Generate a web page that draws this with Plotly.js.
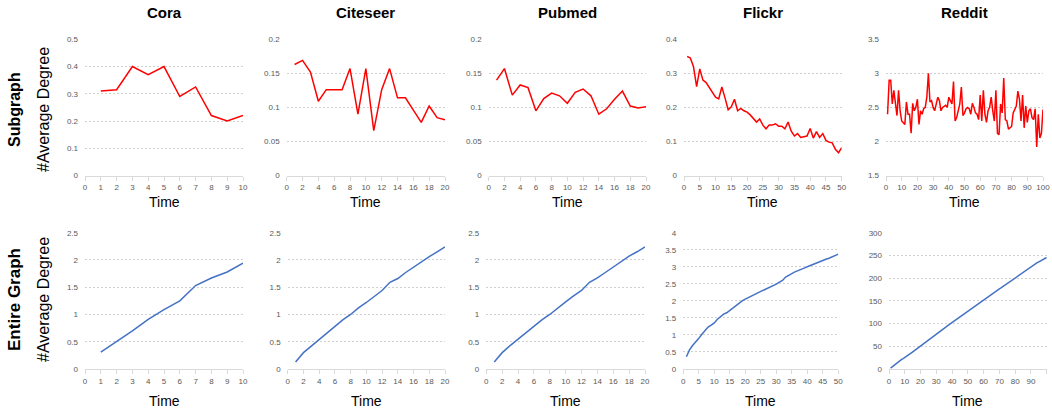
<!DOCTYPE html>
<html>
<head>
<meta charset="utf-8">
<script src="https://cdn.plot.ly/plotly-3.0.1.min.js"></script>
<style>html,body{margin:0;padding:0;background:#fff}#chart{width:1052px;height:409px}</style>
</head>
<body>
<div id="chart"></div>
<script>
// ---- data ----
var datasets = ["Cora", "Citeseer", "Pubmed", "Flickr", "Reddit"];

var coraSub = [0.31, 0.315, 0.40, 0.37, 0.40, 0.29, 0.325, 0.22, 0.20, 0.22];
var citeseerSub = [0.163, 0.169, 0.152, 0.109, 0.126, 0.126, 0.126, 0.157, 0.090, 0.157,
                   0.066, 0.126, 0.157, 0.114, 0.114, 0.096, 0.078, 0.102, 0.085, 0.082];
var pubmedSub = [0.140, 0.157, 0.118, 0.133, 0.129, 0.095, 0.113, 0.121, 0.117, 0.106,
                 0.122, 0.127, 0.117, 0.090, 0.098, 0.112, 0.124, 0.102, 0.099, 0.101];
var flickrSub = [0.350, 0.345, 0.320, 0.261, 0.313, 0.280, 0.273, 0.258, 0.243, 0.230,
                 0.225, 0.260, 0.228, 0.193, 0.202, 0.224, 0.190, 0.197, 0.190, 0.186,
                 0.178, 0.166, 0.157, 0.166, 0.148, 0.137, 0.148, 0.148, 0.152, 0.145,
                 0.145, 0.137, 0.157, 0.130, 0.116, 0.123, 0.112, 0.114, 0.116, 0.138,
                 0.110, 0.129, 0.112, 0.123, 0.103, 0.098, 0.096, 0.077, 0.067, 0.082];
var redditSub = [2.40, 2.90, 2.90, 2.55, 2.75, 2.55, 2.38, 2.75, 2.45, 2.30,
                 2.28, 2.25, 2.58, 2.40, 2.40, 2.12, 2.56, 2.45, 2.50, 2.62,
                 2.25, 2.45, 2.40, 2.48, 2.50, 2.65, 3.00, 2.58, 2.60, 2.50,
                 2.45, 2.55, 2.65, 2.60, 2.45, 2.50, 2.52, 2.53, 2.50, 2.65,
                 2.60, 2.55, 2.88, 2.30, 2.35, 2.45, 2.55, 2.80, 2.38, 2.42,
                 2.48, 2.50, 2.48, 2.40, 2.56, 2.50, 2.42, 2.40, 2.32, 2.68,
                 2.30, 2.75, 2.40, 2.28, 2.45, 2.50, 2.65, 2.45, 2.30, 2.75,
                 2.12, 2.10, 2.55, 2.42, 2.93, 2.32, 2.30, 2.18, 2.20, 2.22,
                 2.42, 2.48, 2.52, 2.74, 2.62, 2.30, 2.68, 2.20, 2.52, 2.28,
                 2.45, 2.48, 2.35, 2.32, 2.48, 1.92, 2.40, 2.05, 2.12, 2.47];

var coraAll = [0.31, 0.50, 0.70, 0.91, 1.09, 1.25, 1.53, 1.67, 1.78, 1.94];
var citeseerAll = [0.13, 0.30, 0.42, 0.54, 0.67, 0.79, 0.90, 1.00, 1.12, 1.22,
                   1.33, 1.44, 1.59, 1.66, 1.77, 1.87, 1.96, 2.06, 2.15, 2.24];
var pubmedAll = [0.13, 0.30, 0.43, 0.55, 0.67, 0.79, 0.90, 1.00, 1.12, 1.23,
                 1.34, 1.44, 1.59, 1.67, 1.77, 1.87, 1.97, 2.07, 2.15, 2.24];
var flickrAll = [0.36, 0.56, 0.69, 0.78, 0.90, 1.02, 1.12, 1.23, 1.29, 1.35,
                 1.46, 1.54, 1.61, 1.65, 1.72, 1.79, 1.86, 1.95, 2.00, 2.05,
                 2.10, 2.15, 2.19, 2.23, 2.28, 2.32, 2.36, 2.40, 2.44, 2.49,
                 2.55, 2.60, 2.70, 2.76, 2.80, 2.85, 2.88, 2.92, 2.96, 3.00,
                 3.04, 3.08, 3.11, 3.15, 3.19, 3.22, 3.25, 3.29, 3.32, 3.37];
var redditAll = [2, 5, 8, 11, 14, 17, 19, 21, 23, 25,
                 27.5, 30, 32.5, 35, 37.5, 40, 42.5, 45, 47.5, 50,
                 52.5, 55, 57.5, 60, 62.5, 65, 67.5, 70, 72.5, 75,
                 78, 81, 84, 87, 89.5, 92, 95, 97.5, 100, 103,
                 105, 107.5, 110, 112.5, 115, 117.5, 120, 122.5, 125, 127.5,
                 130, 132.5, 135, 137.5, 140, 142.5, 145, 147.5, 150, 152,
                 154.5, 157, 159.5, 162, 164.5, 167, 169.5, 172, 174, 176.5,
                 178.5, 181, 183, 185.5, 187.5, 190, 192, 194.5, 196.5, 199,
                 201.5, 204, 206.5, 209, 211.5, 214, 216.5, 219, 221.5, 224,
                 226.5, 229, 231.5, 234, 236, 238, 240, 242, 243.5, 245.5];

var subSeries = [coraSub, citeseerSub, pubmedSub, flickrSub, redditSub];
var allSeries = [coraAll, citeseerAll, pubmedAll, flickrAll, redditAll];

var xMax = [10, 20, 20, 50, 100];
var xStep = [1, 2, 2, 5, 10];
var subYRange = [[0, 0.5], [0, 0.2], [0, 0.2], [0, 0.4], [1.5, 3.5]];
var subYStep = [0.1, 0.05, 0.05, 0.1, 0.5];
var allYRange = [[0, 2.5], [0, 2.5], [0, 2.5], [0, 4], [0, 300]];
var allYStep = [0.5, 0.5, 0.5, 0.5, 50];

var rowLabels = ["Subgraph", "Entire Graph"];
var yTitle = "#Average Degree";
var xTitle = "Time";

// ---- layout geometry (pixels) ----
var W = 1052, H = 409;
var topPx = [[85, 243], [286.7, 445], [488.7, 646], [684, 841.7], [886, 1043]];
var botPx = [[85, 243], [287.7, 445], [486.3, 645], [683.3, 838.3], [889, 1046.7]];
var topY = [39.3, 175.5], botY = [232.7, 369];

function fx(p) { return p / W; }
function fy(p) { return 1 - p / H; }

var traces = [];
var layout = {
  width: W, height: H,
  margin: {l: 0, r: 0, t: 0, b: 0},
  paper_bgcolor: '#ffffff', plot_bgcolor: '#ffffff',
  showlegend: false,
  font: {family: 'Liberation Sans, Arial, sans-serif', color: '#595959', size: 8},
  annotations: []
};

function axes(idx, px, py, xmax, xstep, yr, ystep) {
  var xn = idx === 1 ? 'xaxis' : 'xaxis' + idx;
  var yn = idx === 1 ? 'yaxis' : 'yaxis' + idx;
  layout[xn] = {
    domain: [fx(px[0]), fx(px[1])], anchor: 'y' + (idx === 1 ? '' : idx),
    range: [0, xmax], dtick: xstep, tick0: 0, tickmode: 'linear',
    showgrid: false, zeroline: false, showline: true, linecolor: '#d9d9d9', linewidth: 1,
    ticks: 'outside', ticklen: 4, tickcolor: '#d9d9d9', tickwidth: 1,
    tickfont: {size: 8, color: '#595959'}, fixedrange: true
  };
  layout[yn] = {
    domain: [fy(py[1]), fy(py[0])], anchor: 'x' + (idx === 1 ? '' : idx),
    range: yr, dtick: ystep, tick0: yr[0], tickmode: 'linear',
    showgrid: true, gridcolor: '#d0d0d0', griddash: '2px,2px', gridwidth: 1,
    zeroline: false, showline: false, ticks: '',
    ticklabelstandoff: 6,
    tickfont: {size: 8, color: '#595959'}, fixedrange: true
  };
}

for (var i = 0; i < 5; i++) {
  var idxT = i + 1, idxB = i + 6;
  axes(idxT, topPx[i], topY, xMax[i], xStep[i], subYRange[i], subYStep[i]);
  axes(idxB, botPx[i], botY, xMax[i], xStep[i], allYRange[i], allYStep[i]);
  traces.push({
    type: 'scatter', mode: 'lines',
    x: subSeries[i].map(function (v, k) { return k + 1; }), y: subSeries[i],
    xaxis: 'x' + (idxT === 1 ? '' : idxT), yaxis: 'y' + (idxT === 1 ? '' : idxT),
    line: {color: '#ff0000', width: 1.5}, hoverinfo: 'skip'
  });
  traces.push({
    type: 'scatter', mode: 'lines',
    x: allSeries[i].map(function (v, k) { return k + 1; }), y: allSeries[i],
    xaxis: 'x' + idxB, yaxis: 'y' + idxB,
    line: {color: '#4472c4', width: 1.5}, hoverinfo: 'skip'
  });
  layout.annotations.push({
    xref: 'paper', yref: 'paper', x: fx((topPx[i][0] + topPx[i][1]) / 2), y: fy(12),
    text: '<b>' + datasets[i] + '</b>', showarrow: false, xanchor: 'center', yanchor: 'middle',
    font: {family: 'Liberation Sans, Arial, sans-serif', size: 15, color: '#000000'}
  });
  layout.annotations.push({
    xref: 'paper', yref: 'paper', x: fx((topPx[i][0] + topPx[i][1]) / 2), y: fy(202),
    text: xTitle, showarrow: false, xanchor: 'center', yanchor: 'middle',
    font: {family: 'Liberation Sans, Arial, sans-serif', size: 14, color: '#000000'}
  });
  layout.annotations.push({
    xref: 'paper', yref: 'paper', x: fx((botPx[i][0] + botPx[i][1]) / 2), y: fy(401),
    text: xTitle, showarrow: false, xanchor: 'center', yanchor: 'middle',
    font: {family: 'Liberation Sans, Arial, sans-serif', size: 14, color: '#000000'}
  });
}

var rowCenters = [110, 300];
var rowSizes = [16, 17];
for (var r = 0; r < 2; r++) {
  layout.annotations.push({
    xref: 'paper', yref: 'paper', x: fx(14), y: fy(rowCenters[r]),
    text: '<b>' + rowLabels[r] + '</b>', showarrow: false, textangle: -90,
    xanchor: 'center', yanchor: 'middle',
    font: {family: 'Liberation Sans, Arial, sans-serif', size: rowSizes[r], color: '#000000'}
  });
  layout.annotations.push({
    xref: 'paper', yref: 'paper', x: fx(43), y: fy(rowCenters[r]),
    text: yTitle, showarrow: false, textangle: -90,
    xanchor: 'center', yanchor: 'middle',
    font: {family: 'Liberation Sans, Arial, sans-serif', size: 16, color: '#000000'}
  });
}

Plotly.newPlot('chart', traces, layout, {staticPlot: true, displayModeBar: false});
</script>
</body>
</html>
